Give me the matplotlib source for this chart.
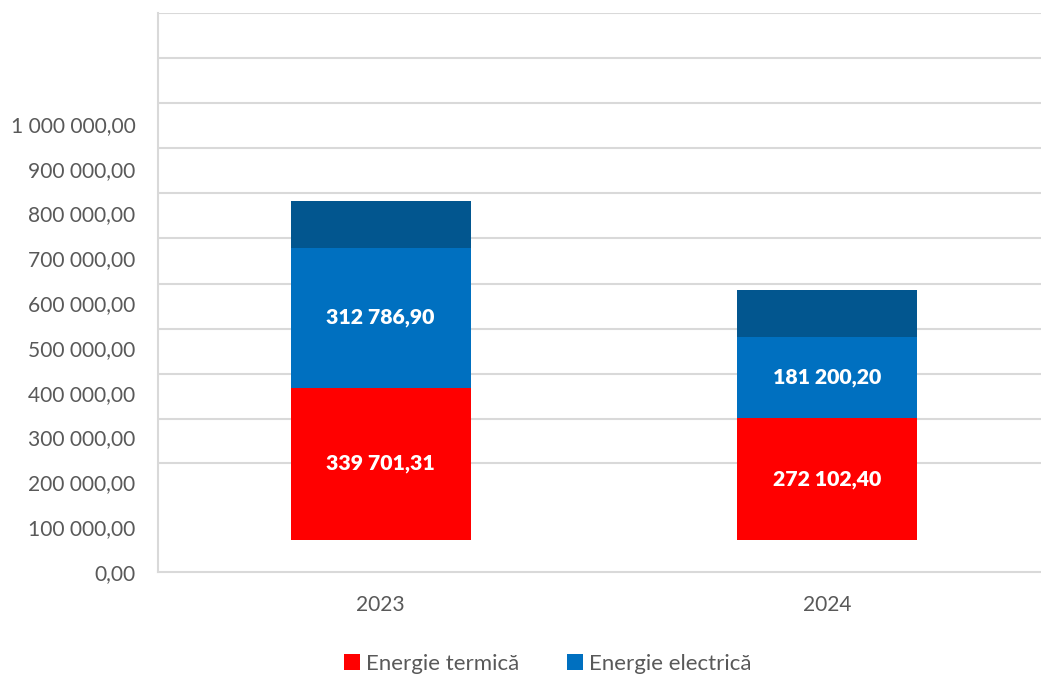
import matplotlib.pyplot as plt
from matplotlib.ticker import FixedLocator, FuncFormatter
from matplotlib.patches import Patch

plt.rcParams['font.family'] = ['Lato', 'DejaVu Sans']

# date
ani = ["2023", "2024"]
energie_termica = [339701.31, 272102.40]
energie_electrica = [312786.90, 181200.20]
segment_superior = [105500, 104300]  # segmentul albastru inchis, fara eticheta

valori_axa = [0, 100000, 200000, 300000, 400000, 500000,
              600000, 700000, 800000, 900000, 1000000]
linii_grila = [242000, 342000, 442000, 542500, 643500, 744500,
               846000, 947000, 1047500, 1148000, 1248600]

baza = 70800  # barele pornesc deasupra lui 0 in original

rosu = "#FF0000"
albastru = "#0070C0"
albastru_inchis = "#02568F"
gri_text = "#595959"
gri_grila = "#D9D9D9"


def format_ro(v, pos=None):
    return f"{v:,.2f}".replace(",", " ").replace(".", ",")


fig = plt.figure(figsize=(10.41, 6.77), dpi=100)
ax = fig.add_axes([157.5 / 1041, 105.3 / 677, 892.6 / 1041, 559.0 / 677])

x = range(len(ani))
latime = 0.403
jos_termica = [baza] * len(ani)
jos_electrica = [baza + t for t in energie_termica]
jos_sup = [baza + t + e for t, e in zip(energie_termica, energie_electrica)]

b1 = ax.bar(x, energie_termica, latime, bottom=jos_termica, color=rosu, zorder=3)
b2 = ax.bar(x, energie_electrica, latime, bottom=jos_electrica, color=albastru, zorder=3)
b3 = ax.bar(x, segment_superior, latime, bottom=jos_sup, color=albastru_inchis, zorder=3)

for bare in (b1, b2):
    ax.bar_label(bare, labels=[format_ro(b.get_height()) for b in bare],
                 label_type='center', color='white', fontsize=15.3,
                 fontweight='heavy', zorder=4)

ax.set_xlim(-0.5, 1.5)
ax.set_ylim(0, linii_grila[-1])

ax.yaxis.set_major_locator(FixedLocator(valori_axa))
ax.yaxis.set_major_formatter(FuncFormatter(format_ro))
ax.yaxis.set_minor_locator(FixedLocator(linii_grila))
ax.grid(which='minor', axis='y', color=gri_grila, linewidth=1.5, zorder=0)
ax.grid(which='major', visible=False)
ax.tick_params(axis='y', which='both', length=0, labelsize=15.1,
               labelcolor=gri_text, pad=16)

ax.set_xticks(list(x))
ax.set_xticklabels(ani)
ax.tick_params(axis='x', length=0, labelsize=15.1, labelcolor=gri_text, pad=17)

for s in ('top', 'right'):
    ax.spines[s].set_visible(False)
for s in ('left', 'bottom'):
    ax.spines[s].set_color(gri_grila)
    ax.spines[s].set_linewidth(1.5)

handles = [Patch(facecolor=rosu, label="Energie termică"),
           Patch(facecolor=albastru, label="Energie electrică")]
fig.legend(handles=handles, loc='center', bbox_to_anchor=(548 / 1041, 1 - 664 / 677),
           ncol=2, frameon=False, fontsize=16, labelcolor=gri_text,
           handlelength=0.7, handleheight=0.7, handletextpad=0.3,
           columnspacing=2.15)

fig.savefig("out.png", dpi=100)
